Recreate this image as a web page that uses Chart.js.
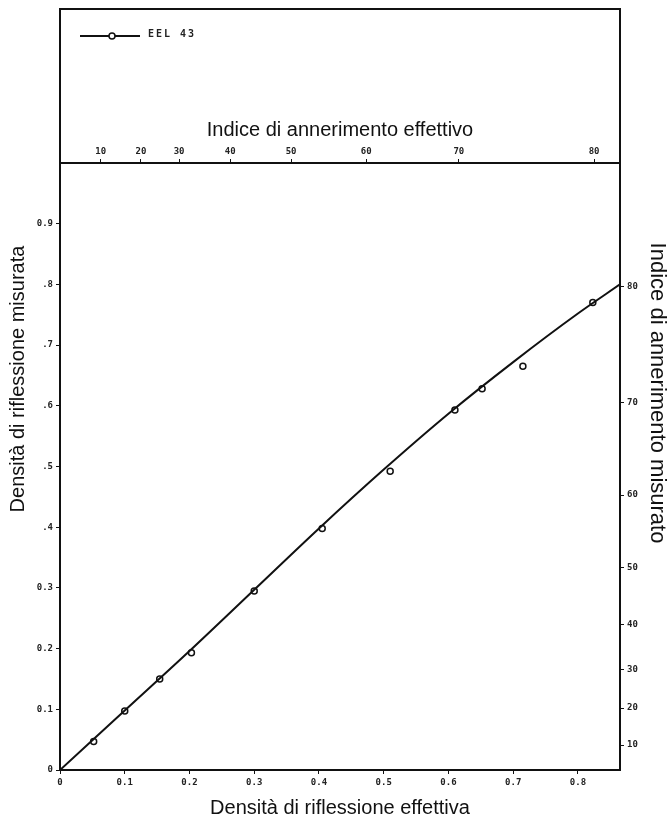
<!DOCTYPE html>
<html>
<head>
<meta charset="utf-8">
<script src="https://cdn.jsdelivr.net/npm/chart.js@4.4.0/dist/chart.umd.min.js"></script>
<style>
  body { margin: 0; background: #fff; }
</style>
</head>
<body>
<canvas id="myChart" width="672" height="824"></canvas>
<script>
// measured points (effective density -> measured density)
const pointX = [0.052, 0.10, 0.154, 0.203, 0.30, 0.405, 0.51, 0.61, 0.652, 0.715, 0.823];
const pointY = [0.047, 0.097, 0.15, 0.193, 0.295, 0.398, 0.492, 0.593, 0.628, 0.665, 0.77];

// drawn curve
const curveX = [0, 0.1, 0.2, 0.3, 0.4, 0.5, 0.6, 0.7, 0.8, 0.865];
const curveY = [0, 0.098, 0.196, 0.297, 0.398, 0.495, 0.587, 0.672, 0.752, 0.80];

// axis ticks
const bottomTicks = [0, 0.1, 0.2, 0.3, 0.4, 0.5, 0.6, 0.7, 0.8];
const bottomLabels = ['0', '0.1', '0.2', '0.3', '0.4', '0.5', '0.6', '0.7', '0.8'];
const leftTicks = [0, 0.1, 0.2, 0.3, 0.4, 0.5, 0.6, 0.7, 0.8, 0.9];
const leftLabels = ['0', '0.1', '0.2', '0.3', '.4', '.5', '.6', '.7', '.8', '0.9'];
const topTicks = [0.063, 0.125, 0.184, 0.263, 0.357, 0.473, 0.616, 0.825];
const topLabels = ['10', '20', '30', '40', '50', '60', '70', '80'];
const rightTicks = [0.041, 0.102, 0.166, 0.239, 0.334, 0.453, 0.606, 0.796];
const rightLabels = ['10', '20', '30', '40', '50', '60', '70', '80'];

const seriesName = 'EEL 43';
const leftTitle = 'Densità di riflessione misurata';
const rightTitle = 'Indice di annerimento misurato';

const ctx = document.getElementById('myChart');
const tickFont = { family: 'DejaVu Sans Mono', size: 9, weight: 'bold' };
const titleFont = { family: 'Liberation Sans', size: 20 };

function fixedTicks(values) {
  return function (scale) {
    scale.ticks = values.map(v => ({ value: v }));
  };
}

// frame above the plot, legend and the two side titles
const framePlugin = {
  id: 'frame',
  afterDraw(chart) {
    const c = chart.ctx;
    const a = chart.chartArea;
    c.save();
    c.strokeStyle = '#111';
    c.lineWidth = 2;
    c.strokeRect(a.left, 9, a.right - a.left, a.top - 9);
    // legend
    c.beginPath();
    c.moveTo(a.left + 20, 36);
    c.lineTo(a.left + 80, 36);
    c.stroke();
    c.beginPath();
    c.fillStyle = '#fff';
    c.lineWidth = 1.5;
    c.arc(a.left + 52, 36, 3, 0, Math.PI * 2);
    c.fill();
    c.stroke();
    c.fillStyle = '#222';
    c.font = 'bold 10px "DejaVu Sans Mono"';
    c.letterSpacing = '2px';
    c.textBaseline = 'middle';
    c.fillText(seriesName, a.left + 88, 34);
    c.letterSpacing = '0px';

    // side titles
    c.fillStyle = '#111';
    c.textAlign = 'center';
    c.font = '20px "Liberation Sans"';
    c.translate(18, 379);
    c.rotate(-Math.PI / 2);
    c.fillText(leftTitle, 0, 0);
    c.setTransform(1, 0, 0, 1, 0, 0);
    c.font = '22px "Liberation Sans"';
    c.translate(657, 393);
    c.rotate(Math.PI / 2);
    c.fillText(rightTitle, 0, 0);
    c.restore();
  }
};

new Chart(ctx, {
  type: 'scatter',
  data: {
    datasets: [{
      label: 'curve',
      data: curveX.map((x, i) => ({ x: x, y: curveY[i] })),
      showLine: true,
      borderColor: '#111',
      borderWidth: 2,
      pointRadius: 0,
      cubicInterpolationMode: 'monotone'
    }, {
      label: seriesName,
      data: pointX.map((x, i) => ({ x: x, y: pointY[i] })),
      showLine: false,
      pointRadius: 3,
      pointBackgroundColor: '#fff',
      pointBorderColor: '#111',
      pointBorderWidth: 1.5
    }]
  },
  options: {
    responsive: false,
    animation: false,
    devicePixelRatio: 1,
    layout: { padding: { top: 100 } },
    plugins: { legend: { display: false }, tooltip: { enabled: false } },
    scales: {
      x: {
        type: 'linear', position: 'bottom', min: 0, max: 0.865,
        afterBuildTicks: fixedTicks(bottomTicks),
        afterFit(s) { s.height = 54; },
        grid: { drawOnChartArea: false, tickLength: 4, color: '#111' },
        border: { color: '#111', width: 2 },
        ticks: { autoSkip: false, maxRotation: 0, font: tickFont, color: '#222', padding: 3,
                 callback: (v, i) => bottomLabels[i] },
        title: { display: true, text: 'Densità di riflessione effettiva', font: titleFont, color: '#111',
                 padding: { top: 4, bottom: 4 } }
      },
      x2: {
        type: 'linear', position: 'top', min: 0, max: 0.865,
        afterBuildTicks: fixedTicks(topTicks),
        afterFit(s) { s.height = 63; },
        grid: { drawOnChartArea: false, tickLength: 4, color: '#111' },
        border: { color: '#111', width: 2 },
        ticks: { autoSkip: false, maxRotation: 0, font: tickFont, color: '#222', padding: 2,
                 callback: (v, i) => topLabels[i] },
        title: { display: true, text: 'Indice di annerimento effettivo', font: titleFont, color: '#111',
                 padding: { top: 18, bottom: 4 } }
      },
      y: {
        type: 'linear', position: 'left', min: 0, max: 1.0,
        afterBuildTicks: fixedTicks(leftTicks),
        afterFit(s) { s.width = 60; },
        grid: { drawOnChartArea: false, tickLength: 4, color: '#111' },
        border: { color: '#111', width: 2 },
        ticks: { autoSkip: false, font: tickFont, color: '#222', padding: 3,
                 callback: (v, i) => leftLabels[i] }
      },
      y2: {
        type: 'linear', position: 'right', min: 0, max: 1.0,
        afterBuildTicks: fixedTicks(rightTicks),
        afterFit(s) { s.width = 52; },
        grid: { drawOnChartArea: false, tickLength: 4, color: '#111' },
        border: { color: '#111', width: 2 },
        ticks: { autoSkip: false, font: tickFont, color: '#222', padding: 3,
                 callback: (v, i) => rightLabels[i] }
      }
    }
  },
  plugins: [framePlugin]
});
</script>
</body>
</html>
